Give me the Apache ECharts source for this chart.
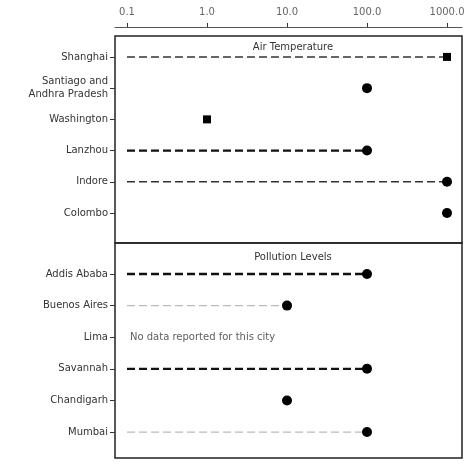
<!DOCTYPE html>
<html>
<head>
<meta charset="utf-8">
<script src="https://cdn.jsdelivr.net/npm/echarts@6/dist/echarts.min.js"></script>
<style>html,body{margin:0;padding:0;background:#fff}#c{width:470px;height:464px}</style>
</head>
<body>
<div id="c"></div>
<script>
// ---- data ----
var tickValues = [0.1, 1, 10, 100, 1000];
var tickLabels = ['0.1', '1.0', '10.0', '100.0', '1000.0'];

var panelTitles = ['Air Temperature', 'Pollution Levels'];

var cats1 = ['Shanghai', 'Santiago and\nAndhra Pradesh', 'Washington', 'Lanzhou', 'Indore', 'Colombo'];
var vals1 = [1000, 100, 1, 100, 1000, 1000];
var kind1 = ['medium', 'none', 'none', 'strong', 'medium', 'none'];
var mark1 = ['rect', 'circle', 'rect', 'circle', 'circle', 'circle'];

var cats2 = ['Addis Ababa', 'Buenos Aires', 'Lima', 'Savannah', 'Chandigarh', 'Mumbai'];
var vals2 = [100, 10, null, 100, 10, 100];
var kind2 = ['strong', 'light', 'none', 'strong', 'none', 'light'];
var mark2 = ['circle', 'circle', 'circle', 'circle', 'circle', 'circle'];
var notes2 = [null, null, 'No data reported for this city', null, null, null];

var rangeStart = 0.1;

// ---- styles ----
var lineStyles = {
  strong: {color: '#111', width: 2.4, type: [8, 4]},
  medium: {color: '#333', width: 1.5, type: [8, 4]},
  light: {color: '#bbb', width: 1.2, type: [8, 4]}
};

var xMin = 0.0708, xMax = 1539;
var rowIdx = [0, 1, 2, 3, 4, 5];

function buildSeries(gi, cats, vals, kinds, marks, notes) {
  var out = [];
  vals.forEach(function (v, i) {
    var k = kinds[i];
    if (v != null && k !== 'none') {
      out.push({
        type: 'line', xAxisIndex: gi, yAxisIndex: gi,
        data: [[rangeStart, i], [v, i]],
        symbol: 'none', silent: true,
        lineStyle: lineStyles[k], z: 2
      });
    }
  });
  var pts = [];
  vals.forEach(function (v, i) {
    if (v != null) pts.push({value: [v, i], symbol: marks[i], symbolSize: marks[i] === 'rect' ? 8 : 10});
  });
  out.push({
    type: 'scatter', xAxisIndex: gi, yAxisIndex: gi, data: pts,
    itemStyle: {color: '#000', opacity: 1}, z: 3
  });
  if (notes) {
    var nd = [];
    notes.forEach(function (n, i) { if (n) nd.push({value: [rangeStart, i], name: n}); });
    out.push({
      type: 'scatter', xAxisIndex: gi, yAxisIndex: gi, data: nd, symbolSize: 0,
      label: {show: true, position: 'right', offset: [-2, 0], formatter: '{b}', color: '#333', fontSize: 10, fontFamily: 'DejaVu Sans'},
      z: 3
    });
  }
  return out;
}

function yAxis(gi, cats, mn, mx) {
  return {
    type: 'value', gridIndex: gi, inverse: true, min: mn, max: mx,
    axisLine: {show: false, onZero: false},
    splitLine: {show: false},
    axisTick: {show: true, customValues: rowIdx, length: 5, lineStyle: {color: '#333'}},
    axisLabel: {customValues: rowIdx, formatter: function (v) { return cats[Math.round(v)]; },
      color: '#333', fontSize: 10, fontFamily: 'DejaVu Sans', lineHeight: 13, margin: 7}
  };
}

var chart = echarts.init(document.getElementById('c'), null, {renderer: 'canvas'});
chart.setOption({
  animation: false,
  backgroundColor: '#fff',
  title: [
    {text: panelTitles[0], left: 288, top: 37, textAlign: 'center', textStyle: {fontSize: 10, fontWeight: 'normal', color: '#333', fontFamily: 'DejaVu Sans'}},
    {text: panelTitles[1], left: 288, top: 247, textAlign: 'center', textStyle: {fontSize: 10, fontWeight: 'normal', color: '#333', fontFamily: 'DejaVu Sans'}}
  ],
  grid: [
    {left: 115, top: 36, width: 347, height: 207, show: true, borderColor: '#222', borderWidth: 1.5, backgroundColor: 'transparent'},
    {left: 115, top: 243, width: 347, height: 215, show: true, borderColor: '#222', borderWidth: 1.5, backgroundColor: 'transparent'}
  ],
  xAxis: [
    {type: 'log', gridIndex: 0, position: 'top', offset: 9, min: xMin, max: xMax,
      axisLine: {show: true, onZero: false, lineStyle: {color: '#555', width: 1}},
      axisTick: {show: true, customValues: tickValues, length: 4, inside: false, lineStyle: {color: '#333'}},
      splitLine: {show: false}, minorTick: {show: false},
      axisLabel: {customValues: tickValues, formatter: function (v) {
        var i = tickValues.findIndex(function (t) { return Math.abs(Math.log10(t) - Math.log10(v)) < 1e-6; });
        return i >= 0 ? tickLabels[i] : '';
      }, color: '#666', fontSize: 10, fontFamily: 'DejaVu Sans', margin: 10}},
    {type: 'log', gridIndex: 1, min: xMin, max: xMax, show: false, axisLine: {onZero: false}, splitLine: {show: false}}
  ],
  yAxis: [yAxis(0, cats1, -0.67, 5.96), yAxis(1, cats2, -0.98, 5.82)],
  series: [].concat(
    buildSeries(0, cats1, vals1, kind1, mark1, null),
    buildSeries(1, cats2, vals2, kind2, mark2, notes2)
  )
});
</script>
</body>
</html>
